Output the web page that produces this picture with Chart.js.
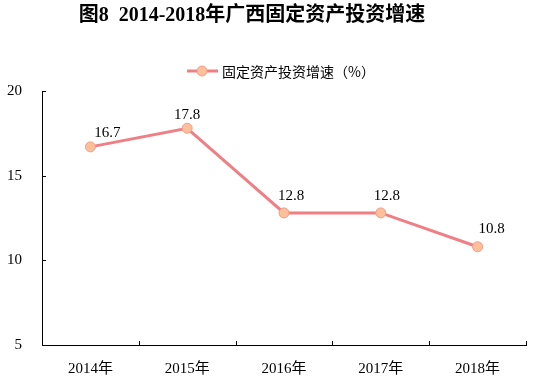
<!DOCTYPE html>
<html><head><meta charset="utf-8">
<script src="https://cdn.jsdelivr.net/npm/chart.js@4/dist/chart.umd.min.js"></script>
<style>html,body{margin:0;padding:0;background:#fff}#wrap{width:539px;height:387px}</style>
</head><body><div id="wrap"><canvas id="c" width="539" height="387"></canvas></div>
<script>
const categories = ['2014年','2015年','2016年','2017年','2018年'];
const growth = [16.7, 17.8, 12.8, 12.8, 10.8];
const yTicks = [5, 10, 15, 20];
const seriesName = '固定资产投资增速（%）';
const titleText = '图8  2014-2018年广西固定资产投资增速';

const LINE = '#EF7F84', PFILL = '#FFBF9B', PBORDER = '#EE9E86';
const FONT = '"Liberation Serif","Noto Sans CJK SC",serif';

const decor = {
  id: 'decor',
  afterDraw(chart) {
    const ctx = chart.ctx;
    const xs = chart.scales.x, ys = chart.scales.y;
    ctx.save();
    // inward tick marks
    ctx.strokeStyle = '#000'; ctx.lineWidth = 1;
    ctx.beginPath();
    yTicks.forEach(v => {
      const y = Math.round(ys.getPixelForValue(v)) + 0.5;
      ctx.moveTo(xs.left, y); ctx.lineTo(xs.left + 4, y);
    });
    const n = categories.length;
    for (let i = 0; i <= n; i++) {
      const x = Math.round(xs.left + (xs.right - xs.left) * i / n) + 0.5;
      ctx.moveTo(x, ys.bottom); ctx.lineTo(x, ys.bottom - 4);
    }
    ctx.stroke();
    // title
    ctx.fillStyle = '#000';
    ctx.font = 'bold 20px "Liberation Serif","Noto Sans CJK SC",serif';
    ctx.textAlign = 'center'; ctx.textBaseline = 'middle';
    ctx.fillText(titleText, 252, 16);
    // legend
    ctx.strokeStyle = LINE; ctx.lineWidth = 3;
    ctx.beginPath(); ctx.moveTo(187, 71); ctx.lineTo(218, 71); ctx.stroke();
    ctx.fillStyle = PFILL; ctx.strokeStyle = PBORDER; ctx.lineWidth = 1;
    ctx.beginPath(); ctx.arc(202, 71, 5, 0, Math.PI * 2); ctx.fill(); ctx.stroke();
    ctx.fillStyle = '#000'; ctx.font = '14px "Noto Sans CJK SC",sans-serif';
    ctx.textAlign = 'left';
    ctx.fillText(seriesName, 222, 72);
    // data labels
    const meta = chart.getDatasetMeta(0);
    const dx = [17, 0, 7, 6, 14];
    const dy = [-14, -13, -17, -17, -18];
    ctx.font = '15px ' + FONT; ctx.textAlign = 'center'; ctx.textBaseline = 'middle';
    meta.data.forEach((p, i) => {
      ctx.fillText(growth[i].toFixed(1), p.x + dx[i], p.y + dy[i]);
    });
    ctx.restore();
  }
};

new Chart(document.getElementById('c'), {
  type: 'line',
  data: {
    labels: categories,
    datasets: [{
      label: seriesName,
      data: growth,
      borderColor: LINE, borderWidth: 3,
      pointBackgroundColor: PFILL, pointBorderColor: PBORDER, pointBorderWidth: 1,
      pointRadius: 5, tension: 0, fill: false
    }]
  },
  options: {
    responsive: false, animation: false, devicePixelRatio: 1,
    layout: { padding: { top: 91, right: 13, left: 0, bottom: 0 } },
    plugins: { legend: { display: false }, title: { display: false }, tooltip: { enabled: false } },
    scales: {
      x: {
        offset: true,
        grid: { offset: true, drawOnChartArea: false, drawTicks: false, color: '#000' },
        border: { color: '#000', width: 1 },
        ticks: { color: '#000', font: { size: 15, family: FONT }, padding: 15, maxRotation: 0 },
        afterFit(s) { s.height = 42; }
      },
      y: {
        min: 5, max: 20,
        afterBuildTicks(s) { s.ticks = yTicks.map(v => ({ value: v })); },
        grid: { drawOnChartArea: false, drawTicks: false, color: '#000' },
        border: { color: '#000', width: 1 },
        ticks: { color: '#000', font: { size: 15, family: FONT }, padding: 20 },
        afterFit(s) { s.width = 42; }
      }
    }
  },
  plugins: [decor]
});
</script>
</body></html>
